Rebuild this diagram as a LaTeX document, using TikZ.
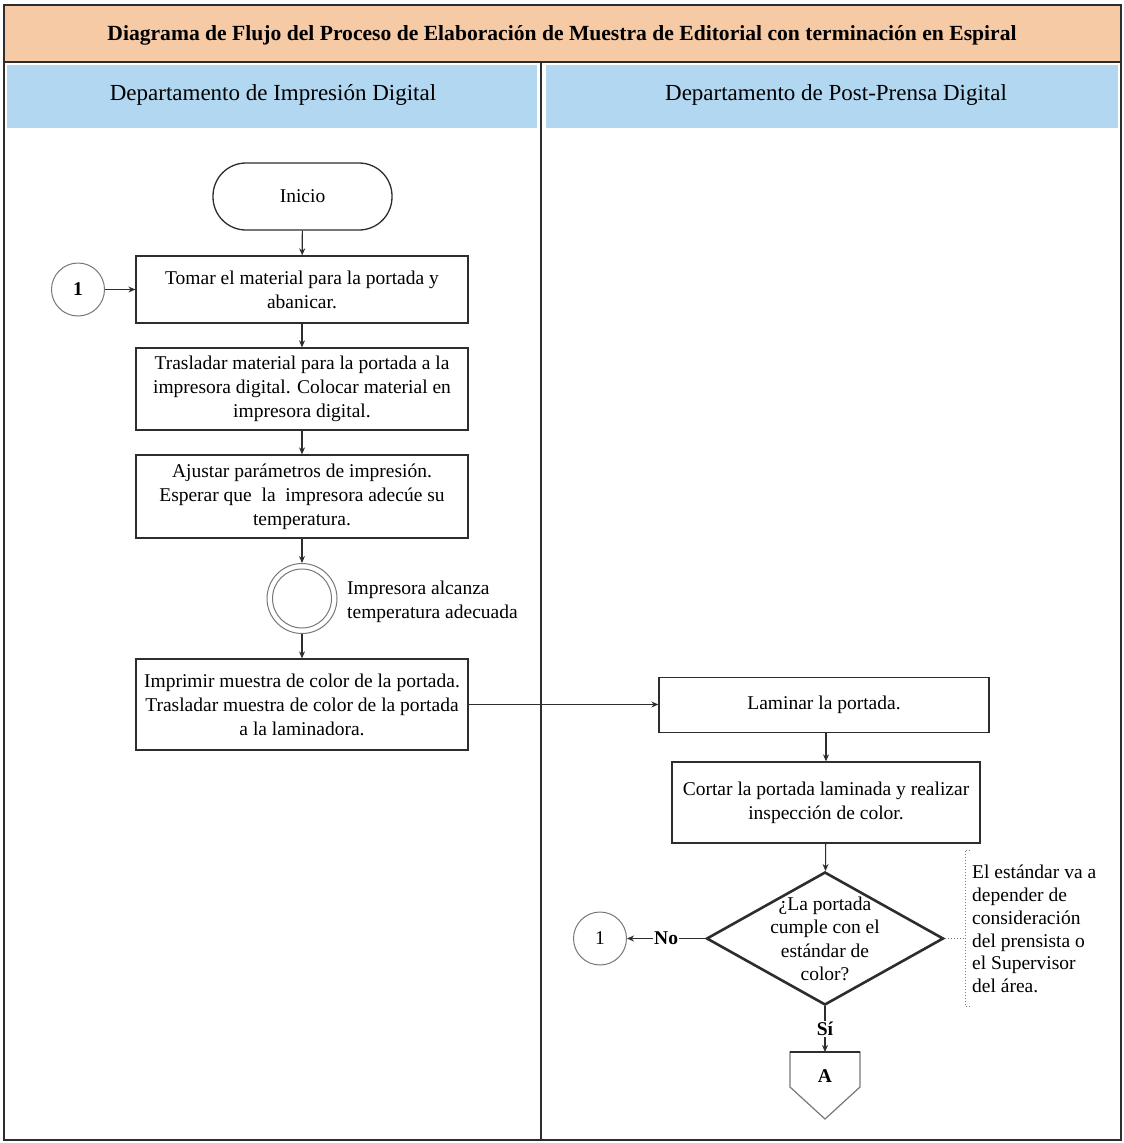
\documentclass[tikz,border=0pt]{standalone}
\usepackage{fontspec}
\setmainfont{Liberation Serif}
\usetikzlibrary{arrows.meta,shapes.geometric,calc}
\definecolor{peach}{RGB}{246,202,164}
\definecolor{skyb}{RGB}{178,215,241}
\definecolor{ln}{RGB}{45,45,45}
\definecolor{lg}{RGB}{120,120,120}
\newcommand\fs{\fontsize{19.5}{24}\selectfont}
\begin{document}
\begin{tikzpicture}[x=1pt,y=-1pt,
  box/.style={draw=ln, line width=1.3pt, fill=white, align=center, font=\fs, inner sep=2pt},
  arr/.style={-{Stealth[length=7pt,width=6pt]}, draw=ln, line width=1.1pt},
  conn/.style={circle, draw=lg, line width=1pt, minimum size=53pt, inner sep=0pt, font=\fs},
  lbl/.style={font=\bfseries\fs, fill=white, inner sep=1pt}
]
\useasboundingbox (0,0) rectangle (1124,1143);
\fill[white] (0,0) rectangle (1124,1143);
% bands
\fill[peach] (4,5) rectangle (1121,61);
\fill[skyb] (7,65) rectangle (537,128);
\fill[skyb] (546,65) rectangle (1118,128);
\node[font=\bfseries\fontsize{21.6}{26}\selectfont] (title) at (562,35) {Diagrama de Flujo del Proceso de Elaboración de Muestra de Editorial con terminación en Espiral};
\node[font=\fontsize{23}{27}\selectfont] (h1) at (273,95) {Departamento de Impresión Digital};
\node[font=\fontsize{23}{27}\selectfont] (h2) at (836,95) {Departamento de Post-Prensa Digital};
\draw[ln, line width=1.4pt] (4,62) -- (1121,62);
\draw[ln, line width=2.2pt] (541,62) -- (541,1140);
\draw[ln, line width=2.6pt] (4,5) rectangle (1121,1140);
% left lane
\node[box, rounded corners=33pt, minimum width=179pt, minimum height=67pt] (ini) at (302.5,196.5) {Inicio};
\node[box, minimum width=332pt, minimum height=67pt] (b1) at (302,289.5) {Tomar el material para la portada y\\abanicar.};
\node[conn, font=\bfseries\fs] (c1) at (78,289.5) {1};
\node[box, minimum width=332pt, minimum height=82pt] (b2) at (302,389) {Trasladar material para la portada a la\\impresora digital. Colocar material en\\impresora digital.};
\node[box, minimum width=332pt, minimum height=83pt] (b3) at (302,496.5) {Ajustar parámetros de impresión.\\Esperar que\ \ la\ \ impresora adecúe su\\temperatura.};
\node[circle, draw=lg, line width=1pt, minimum size=70pt, inner sep=0pt] (dc) at (302,598.5) {};
\draw[lg, line width=1pt] (dc.center) circle[radius=29.5pt];
\node[anchor=west, align=left, font=\fs, inner sep=0pt] (dcl) at (347,602) {Impresora alcanza\\temperatura adecuada};
\node[box, minimum width=332pt, minimum height=91pt] (b4) at (302,704.5) {Imprimir muestra de color de la portada.\\Trasladar muestra de color de la portada\\a la laminadora.};
% right lane
\node[box, minimum width=330pt, minimum height=55pt] (lam) at (824,705) {Laminar la portada.};
\node[box, minimum width=308pt, minimum height=81pt] (cut) at (826,802.5) {Cortar la portada laminada y realizar\\inspección de color.};
\node[diamond, draw=ln, line width=2.6pt, minimum width=237pt, minimum height=133pt, inner sep=0pt] (dia) at (825,938.5) {};
\node[align=center, font=\fontsize{19.5}{23.5}\selectfont, inner sep=0pt] (diat) at (825,939) {¿La portada\\cumple con el\\estándar de\\color?};
\node[conn] (c2) at (600,938.5) {1};
\coordinate (Atop) at (825,1052);
\draw[lg, line width=1.2pt, fill=white] (790,1052) -- (860,1052) -- (860,1087) -- (825,1119) -- (790,1087) -- cycle;
\draw[ln, line width=1.6pt] (790,1052) -- (860,1052);
\node[font=\bfseries\fs] (A) at (825,1076) {A};
\coordinate (brk) at (965,938.5);
\draw[lg, dotted, line width=1pt] (970,850) -- (965,850) -- (965,1006) -- (970,1006);
\draw[lg, dotted, line width=1pt] (dia.east) -- (brk);
\node[anchor=west, align=left, font=\fontsize{19.5}{22.7}\selectfont, inner sep=0pt] (note) at (972,929) {El estándar va a\\depender de\\consideración\\del prensista o\\el Supervisor\\del área.};
% connectors
\draw[arr] (ini) -- (b1);
\draw[arr] (c1) -- (c1 -| b1.west);
\draw[arr] (b1) -- (b2);
\draw[arr] (b2) -- (b3);
\draw[arr] (b3) -- (dc);
\draw[arr] (dc) -- (b4);
\draw[arr] (b4.east) -- (b4.east -| lam.west);
\draw[arr] (lam.south -| cut.north) -- (cut.north);
\draw[arr] (cut) -- (dia);
\draw[arr] (dia.west) -- node[lbl]{No} (c2);
\draw[arr] (dia.south) -- node[lbl]{Sí} (Atop);
\end{tikzpicture}
\end{document}
